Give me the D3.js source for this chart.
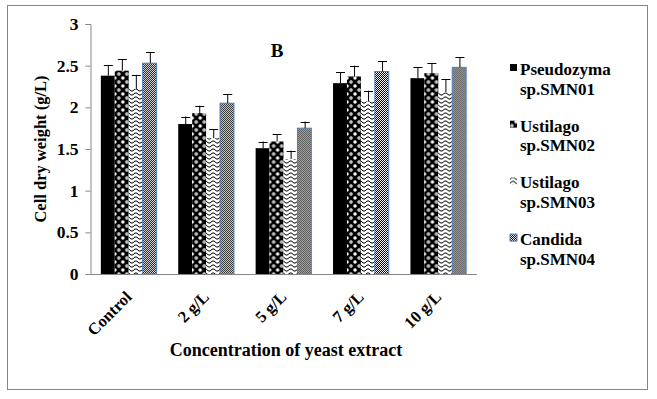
<!DOCTYPE html>
<html>
<head>
<meta charset="utf-8">
<script src="https://cdn.jsdelivr.net/npm/d3@7"></script>
<style>
  body { margin: 0; background: #fff; }
</style>
</head>
<body>
<svg id="chart" width="657" height="399"></svg>
<script>
// data
var categories = ["Control", "2 g/L", "5 g/L", "7 g/L", "10 g/L"];
var seriesNames = ["Pseudozyma sp.SMN01", "Ustilago sp.SMN02", "Ustilago sp.SMN03", "Candida sp.SMN04"];
var smn01 = [2.38, 1.80, 1.51, 2.29, 2.35];
var smn02 = [2.44, 1.93, 1.59, 2.37, 2.41];
var smn03 = [2.22, 1.63, 1.38, 2.07, 2.18];
var smn04 = [2.53, 2.05, 1.75, 2.43, 2.48];
var err01 = [0.13, 0.09, 0.08, 0.13, 0.13];
var err02 = [0.14, 0.09, 0.09, 0.13, 0.12];
var err03 = [0.17, 0.11, 0.10, 0.13, 0.16];
var err04 = [0.13, 0.11, 0.08, 0.12, 0.12];
var yTicks = [0, 0.5, 1, 1.5, 2, 2.5, 3];

var values = [smn01, smn02, smn03, smn04];
var errors = [err01, err02, err03, err04];

var FONT = "'Liberation Serif', 'DejaVu Serif', 'Times New Roman', serif";

var svg = d3.select("#chart");
var axisColor = "#868686";

svg.append("rect")
    .attr("width", 657).attr("height", 399).attr("fill", "#fff");

// outer chart border
svg.append("rect")
    .attr("x", 7.5).attr("y", 5.5)
    .attr("width", 640).attr("height", 384)
    .attr("fill", "none")
    .attr("stroke", axisColor);

// fill patterns
var defs = svg.append("defs");

var p2 = defs.append("pattern").attr("id", "pat2")
    .attr("patternUnits", "userSpaceOnUse").attr("width", 8).attr("height", 8);
p2.append("rect").attr("width", 8).attr("height", 8).attr("fill", "#000");
p2.append("circle").attr("cx", 2).attr("cy", 2).attr("r", 1.7).attr("fill", "#fff");
p2.append("circle").attr("cx", 6).attr("cy", 6).attr("r", 1.7).attr("fill", "#fff");
p2.append("rect").attr("x", 1.5).attr("y", 1.5).attr("width", 1).attr("height", 1).attr("fill", "#000");

var p3 = defs.append("pattern").attr("id", "pat3")
    .attr("patternUnits", "userSpaceOnUse").attr("width", 8).attr("height", 4);
p3.append("rect").attr("width", 8).attr("height", 4).attr("fill", "#fff");
p3.append("path").attr("d", "M0,3 L2,1 L4,1 L6,3 L8,3")
    .attr("fill", "none").attr("stroke", "#000").attr("stroke-width", 1);

var p4 = defs.append("pattern").attr("id", "pat4")
    .attr("patternUnits", "userSpaceOnUse").attr("width", 2).attr("height", 2);
p4.append("rect").attr("width", 2).attr("height", 2).attr("fill", "#fff");
p4.append("rect").attr("x", 0).attr("y", 0).attr("width", 1).attr("height", 1).attr("fill", "#000");
p4.append("rect").attr("x", 1).attr("y", 1).attr("width", 1).attr("height", 1).attr("fill", "#000");

var fills = ["#000", "url(#pat2)", "url(#pat3)", "url(#pat4)"];
var strokes = ["none", "none", "none", "#4F81BD"];

// scales
var x = d3.scaleBand()
    .domain(categories)
    .range([90, 477])
    .paddingInner(0.28)
    .paddingOuter(0.14);

var xs = d3.scaleBand()
    .domain(d3.range(seriesNames.length))
    .range([0, x.bandwidth()]);

var y = d3.scaleLinear()
    .domain([0, 3])
    .range([274, 24]);

// y axis
var yAxis = svg.append("g")
    .attr("transform", "translate(90.5,0)")
    .call(d3.axisLeft(y).tickValues(yTicks).tickSize(5).tickPadding(7)
        .tickFormat(d3.format("")));
yAxis.attr("font-family", null).attr("font-size", null);
yAxis.select(".domain").attr("stroke", axisColor);
yAxis.selectAll(".tick line").attr("stroke", axisColor);
yAxis.selectAll(".tick text").style("font-size", "17.5px");

// bars
var groups = svg.append("g").selectAll("g")
    .data(categories)
    .join("g")
    .attr("transform", function(d) { return "translate(" + x(d) + ",0)"; });

groups.each(function(cat, ci) {
  var g = d3.select(this);
  values.forEach(function(vals, si) {
    g.append("rect")
        .attr("x", xs(si))
        .attr("y", y(vals[ci]))
        .attr("width", xs.bandwidth())
        .attr("height", y(0) - y(vals[ci]))
        .attr("fill", fills[si])
        .attr("stroke", strokes[si])
        .attr("stroke-width", 1);
  });
  values.forEach(function(vals, si) {
    var cx = Math.round(xs(si) + xs.bandwidth() / 2) + 0.5;
    var top = y(vals[ci] + errors[si][ci]);
    g.append("line")
        .attr("x1", cx).attr("x2", cx)
        .attr("y1", y(vals[ci])).attr("y2", top)
        .attr("stroke", "#000");
    g.append("line")
        .attr("x1", cx - 4.5).attr("x2", cx + 4.5)
        .attr("y1", Math.round(top) + 0.5).attr("y2", Math.round(top) + 0.5)
        .attr("stroke", "#000");
  });
});

// x axis
svg.append("line")
    .attr("x1", 90).attr("x2", 477)
    .attr("y1", 274.5).attr("y2", 274.5)
    .attr("stroke", axisColor);

svg.append("g").selectAll("text")
    .data(categories)
    .join("text")
    .attr("transform", function(d) {
      return "translate(" + (x(d) + x.bandwidth() / 2 + 4) + ",298) rotate(-45)";
    })
    .attr("text-anchor", "end")
    .style("font-size", "16.5px")
    .text(function(d) { return d; });

// titles
svg.append("text")
    .attr("transform", "translate(46,149) rotate(-90)")
    .attr("text-anchor", "middle")
    .style("font-size", "16.5px")
    .text("Cell dry weight (g/L)");

svg.append("text")
    .attr("x", 286).attr("y", 356)
    .attr("text-anchor", "middle")
    .style("font-size", "18px")
    .text("Concentration of yeast extract");

svg.append("text")
    .attr("x", 277).attr("y", 57)
    .attr("text-anchor", "middle")
    .style("font-size", "19px")
    .text("B");

// legend
var legend = svg.append("g").selectAll("g")
    .data(seriesNames)
    .join("g")
    .attr("transform", function(d, i) { return "translate(510," + (75 + i * 56.7) + ")"; });

legend.append("rect")
    .attr("x", 0).attr("y", -11)
    .attr("width", 7).attr("height", 7)
    .attr("fill", function(d, i) { return fills[i]; })
    .attr("stroke", function(d, i) { return strokes[i]; });

legend.append("text")
    .attr("x", 10)
    .style("font-size", "17px")
    .each(function(d) {
      var parts = d.split(" ");
      d3.select(this).append("tspan").attr("x", 10).attr("dy", 0).text(parts[0]);
      d3.select(this).append("tspan").attr("x", 10).attr("dy", 19.5).text(parts[1]);
    });

// all text: bold serif, black
svg.selectAll("text")
    .style("font-family", FONT)
    .style("font-weight", "bold")
    .style("fill", "#000");
</script>
</body>
</html>
